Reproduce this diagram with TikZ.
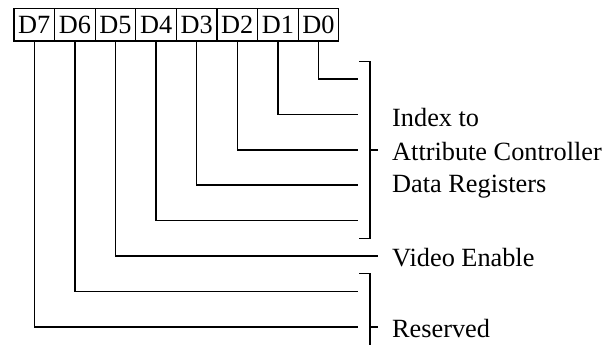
\documentclass[tikz,border=0pt]{standalone}
\usepackage{fontspec}
\setmainfont{Liberation Serif}
\usepackage{tikz}

\tikzset{
  bitbox/.style={draw, line width=1.2pt, minimum width=40.6pt, minimum height=32.7pt, inner sep=0pt},
  wire/.style={line width=1.5pt},
  lbl/.style={anchor=west, inner sep=0pt}
}

\begin{document}
\begin{tikzpicture}[x=1pt, y=-1pt, font=\fontsize{26.3}{31}\selectfont]
\useasboundingbox (0,0) rectangle (603,345);
\node[bitbox] (d7) at (34.3, 24.7) {D7}; \node[bitbox] (d6) at (74.9, 24.7) {D6};
\node[bitbox] (d5) at (115.5, 24.7) {D5}; \node[bitbox] (d4) at (156.1, 24.7) {D4};
\node[bitbox] (d3) at (196.7, 24.7) {D3}; \node[bitbox] (d2) at (237.3, 24.7) {D2};
\node[bitbox] (d1) at (277.9, 24.7) {D1}; \node[bitbox] (d0) at (318.5, 24.7) {D0};
% line ends
\coordinate (e0) at (358, 79);    \coordinate (e1) at (358, 114.4);
\coordinate (e2) at (358, 149.8); \coordinate (e3) at (358, 185.2);
\coordinate (e4) at (358, 220.6); \coordinate (e5) at (378, 256);
\coordinate (e6) at (358, 291.4); \coordinate (e7) at (358, 326.8);
\draw[wire] (d0.south) |- (e0); \draw[wire] (d1.south) |- (e1);
\draw[wire] (d2.south) |- (e2); \draw[wire] (d3.south) |- (e3);
\draw[wire] (d4.south) |- (e4); \draw[wire] (d5.south) |- (e5);
\draw[wire] (d6.south) |- (e6); \draw[wire] (d7.south) |- (e7);
% brackets
\draw[wire] (359, 61.3) -- (370, 61.3) -- (370, 238.3) -- (359, 238.3);
\draw[wire] (370, 149.8) -- (378, 149.8);
\draw[wire] (359, 273.7) -- (370, 273.7) -- (370, 345) (370, 326.8) -- (378, 326.8);
% labels
\node[lbl] (idx) at (392, 118) {Index to};
\node[lbl] (attr) at (392, 152) {Attribute Controller};
\node[lbl] (data) at (392, 187) {Data Registers};
\node[lbl] (vid) at (392, 258) {Video Enable};
\node[lbl] (res) at (392, 329) {Reserved};
\end{tikzpicture}
\end{document}
